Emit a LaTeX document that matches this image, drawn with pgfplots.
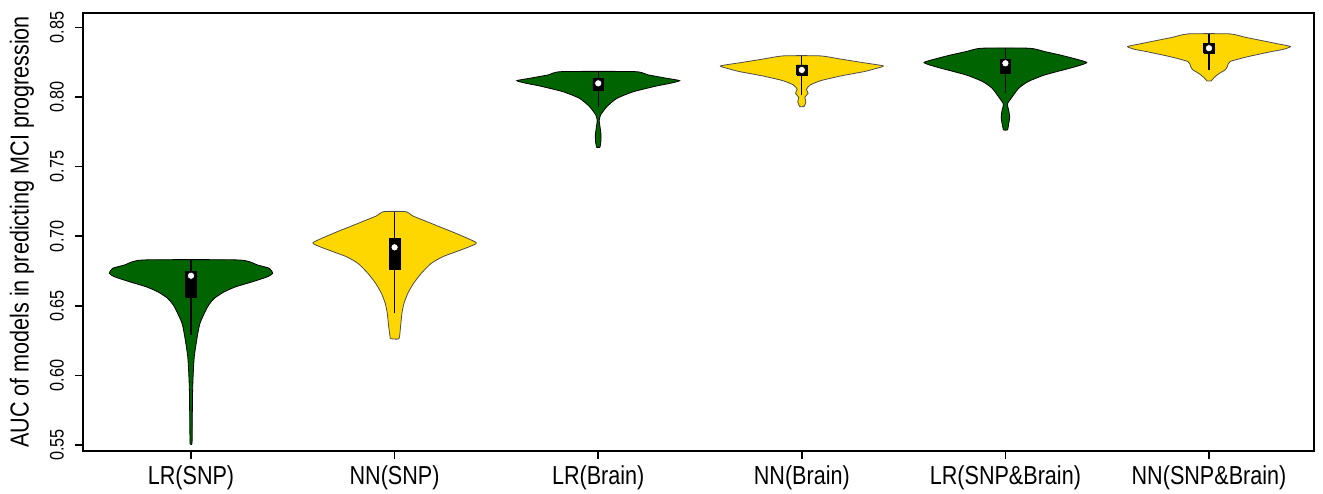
\documentclass[border=0pt]{standalone}
\usepackage{pgfplots}
\usepackage{pgfplotstable}
\pgfplotsset{compat=1.18}
\usepackage{fontspec}
\setmainfont{Liberation Sans}[FakeStretch=0.83]
\definecolor{vgreen}{RGB}{0,100,0}
\definecolor{vgold}{RGB}{255,215,0}

% violin outlines: side s (-1 left, +1 right), y, half-width w
\pgfplotstableread{
s y w
-1 0.5512 0.005
-1 0.5728 0.0065
-1 0.5895 0.008
-1 0.6015 0.011
-1 0.6134 0.016
-1 0.6254 0.028
-1 0.6374 0.044
-1 0.6494 0.082
-1 0.6554 0.115
-1 0.6601 0.164
-1 0.6637 0.221
-1 0.6673 0.303
-1 0.6709 0.377
-1 0.6733 0.401
-1 0.6769 0.385
-1 0.6793 0.327
-1 0.6829 0.236
1 0.6829 0.236
1 0.6793 0.327
1 0.6769 0.385
1 0.6733 0.401
1 0.6709 0.377
1 0.6673 0.303
1 0.6637 0.221
1 0.6601 0.164
1 0.6554 0.115
1 0.6494 0.082
1 0.6374 0.044
1 0.6254 0.028
1 0.6134 0.016
1 0.6015 0.011
1 0.5895 0.008
1 0.5728 0.0065
1 0.5512 0.005
-1 0.5512 0.005
}\vA
\pgfplotstableread{
s y w
-1 0.6264 0.021
-1 0.6350 0.029
-1 0.6446 0.036
-1 0.6518 0.046
-1 0.6590 0.065
-1 0.6661 0.093
-1 0.6733 0.131
-1 0.6805 0.180
-1 0.6853 0.237
-1 0.6889 0.303
-1 0.6925 0.368
-1 0.6954 0.401
-1 0.7021 0.300
-1 0.7068 0.220
-1 0.7116 0.139
-1 0.7145 0.090
-1 0.7176 0.054
1 0.7176 0.054
1 0.7145 0.090
1 0.7116 0.139
1 0.7068 0.220
1 0.7021 0.300
1 0.6954 0.401
1 0.6925 0.368
1 0.6889 0.303
1 0.6853 0.237
1 0.6805 0.180
1 0.6733 0.131
1 0.6661 0.093
1 0.6590 0.065
1 0.6518 0.046
1 0.6446 0.036
1 0.6350 0.029
1 0.6264 0.021
-1 0.6264 0.021
}\vB
\pgfplotstableread{
s y w
-1 0.7638 0.008
-1 0.7679 0.013
-1 0.7727 0.014
-1 0.7775 0.010
-1 0.7830 0.005
-1 0.7871 0.012
-1 0.7931 0.043
-1 0.7990 0.092
-1 0.8038 0.174
-1 0.8079 0.288
-1 0.8098 0.354
-1 0.8117 0.400
-1 0.8134 0.337
-1 0.8158 0.247
-1 0.8182 0.180
1 0.8182 0.180
1 0.8158 0.247
1 0.8134 0.337
1 0.8117 0.400
1 0.8098 0.354
1 0.8079 0.288
1 0.8038 0.174
1 0.7990 0.092
1 0.7931 0.043
1 0.7871 0.012
1 0.7830 0.005
1 0.7775 0.010
1 0.7727 0.014
1 0.7679 0.013
1 0.7638 0.008
-1 0.7638 0.008
}\vC
\pgfplotstableread{
s y w
-1 0.7931 0.011
-1 0.7966 0.020
-1 0.7998 0.015
-1 0.8026 0.031
-1 0.8055 0.023
-1 0.8086 0.041
-1 0.8117 0.093
-1 0.8151 0.192
-1 0.8182 0.306
-1 0.8204 0.363
-1 0.8223 0.400
-1 0.8247 0.298
-1 0.8271 0.195
-1 0.8295 0.090
1 0.8295 0.090
1 0.8271 0.195
1 0.8247 0.298
1 0.8223 0.400
1 0.8204 0.363
1 0.8182 0.306
1 0.8151 0.192
1 0.8117 0.093
1 0.8086 0.041
1 0.8055 0.023
1 0.8026 0.031
1 0.7998 0.015
1 0.7966 0.020
1 0.7931 0.011
-1 0.7931 0.011
}\vD
\pgfplotstableread{
s y w
-1 0.7763 0.010
-1 0.7806 0.016
-1 0.7854 0.021
-1 0.7907 0.016
-1 0.7950 0.010
-1 0.8002 0.034
-1 0.8062 0.065
-1 0.8110 0.111
-1 0.8158 0.193
-1 0.8206 0.316
-1 0.8230 0.373
-1 0.8249 0.400
-1 0.8278 0.332
-1 0.8302 0.267
-1 0.8326 0.193
-1 0.8350 0.118
1 0.8350 0.118
1 0.8326 0.193
1 0.8302 0.267
1 0.8278 0.332
1 0.8249 0.400
1 0.8230 0.373
1 0.8206 0.316
1 0.8158 0.193
1 0.8110 0.111
1 0.8062 0.065
1 0.8002 0.034
1 0.7950 0.010
1 0.7907 0.016
1 0.7854 0.021
1 0.7806 0.016
1 0.7763 0.010
-1 0.7763 0.010
}\vE
\pgfplotstableread{
s y w
-1 0.8115 0.010
-1 0.8141 0.026
-1 0.8170 0.051
-1 0.8194 0.079
-1 0.8218 0.090
-1 0.8254 0.103
-1 0.8290 0.193
-1 0.8326 0.308
-1 0.8342 0.365
-1 0.8362 0.400
-1 0.8381 0.340
-1 0.8405 0.259
-1 0.8429 0.177
-1 0.8453 0.102
1 0.8453 0.102
1 0.8429 0.177
1 0.8405 0.259
1 0.8381 0.340
1 0.8362 0.400
1 0.8342 0.365
1 0.8326 0.308
1 0.8290 0.193
1 0.8254 0.103
1 0.8218 0.090
1 0.8194 0.079
1 0.8170 0.051
1 0.8141 0.026
1 0.8115 0.010
-1 0.8115 0.010
}\vF

\begin{document}
\begin{tikzpicture}
\useasboundingbox (-41.5pt,-21pt) rectangle (620pt,225.5pt);
\begin{axis}[
  at={(0,0)}, anchor=south west,
  scale only axis, width=615.5pt, height=219pt,
  xmin=0.4695, xmax=6.5157, ymin=0.5457, ymax=0.8603,
  xtick={1,2,3,4,5,6},
  xticklabels={LR(SNP),NN(SNP),LR(Brain),NN(Brain),LR(SNP\&Brain),NN(SNP\&Brain)},
  ytick={0.55,0.6,0.65,0.7,0.75,0.8,0.85},
  /pgf/number format/assume math mode=true,
  yticklabel style={/pgf/number format/fixed, /pgf/number format/fixed zerofill,
    /pgf/number format/precision=2, rotate=90, anchor=south,
    font=\fontsize{9.8}{11}\selectfont},
  yticklabel shift=2pt,
  xticklabel style={font=\fontsize{13}{15}\selectfont},
  tick align=outside, xtick pos=bottom, ytick pos=left,
  major tick length=4pt,
  axis line style={line width=1pt},
  every tick/.style={black, line width=0.8pt},
  ylabel={AUC of models in predicting MCI progression},
  ylabel style={font=\fontsize{13}{15}\selectfont, at={(axis description cs:-0.0496,0.5)}, anchor=center},
]
% violins
\addplot[fill=vgreen, draw=black, line width=0.4pt, smooth, tension=0.35]
  table[x expr=1+\thisrow{s}*\thisrow{w}, y=y]{\vA};
\addplot[fill=vgold, draw=black!70, line width=0.4pt, smooth, tension=0.35]
  table[x expr=2+\thisrow{s}*\thisrow{w}, y=y]{\vB};
\addplot[fill=vgreen, draw=black, line width=0.4pt, smooth, tension=0.35]
  table[x expr=3+\thisrow{s}*\thisrow{w}, y=y]{\vC};
\addplot[fill=vgold, draw=black!70, line width=0.4pt, smooth, tension=0.35]
  table[x expr=4+\thisrow{s}*\thisrow{w}, y=y]{\vD};
\addplot[fill=vgreen, draw=black, line width=0.4pt, smooth, tension=0.35]
  table[x expr=5+\thisrow{s}*\thisrow{w}, y=y]{\vE};
\addplot[fill=vgold, draw=black!70, line width=0.4pt, smooth, tension=0.35]
  table[x expr=6+\thisrow{s}*\thisrow{w}, y=y]{\vF};
% whiskers
\addplot[black, line width=0.55pt] coordinates {(1,0.6290) (1,0.6829)};
\addplot[black, line width=0.55pt] coordinates {(2,0.6446) (2,0.7176)};
\addplot[black, line width=0.55pt] coordinates {(3,0.7931) (3,0.8182)};
\addplot[black, line width=0.55pt] coordinates {(4,0.8014) (4,0.8295)};
\addplot[black, line width=0.55pt] coordinates {(5,0.8026) (5,0.8350)};
\addplot[black, line width=0.55pt] coordinates {(6,0.8194) (6,0.8453)};
% boxes
\addplot[fill=black, draw=black] coordinates {(0.974,0.6561) (1.026,0.6561) (1.026,0.6745) (0.974,0.6745) (0.974,0.6561)};
\addplot[fill=black, draw=black] coordinates {(1.974,0.6762) (2.026,0.6762) (2.026,0.6985) (1.974,0.6985) (1.974,0.6762)};
\addplot[fill=black, draw=black] coordinates {(2.974,0.8050) (3.026,0.8050) (3.026,0.8134) (2.974,0.8134) (2.974,0.8050)};
\addplot[fill=black, draw=black] coordinates {(3.974,0.8158) (4.026,0.8158) (4.026,0.8230) (3.974,0.8230) (3.974,0.8158)};
\addplot[fill=black, draw=black] coordinates {(4.974,0.8170) (5.026,0.8170) (5.026,0.8271) (4.974,0.8271) (4.974,0.8170)};
\addplot[fill=black, draw=black] coordinates {(5.974,0.8314) (6.026,0.8314) (6.026,0.8386) (5.974,0.8386) (5.974,0.8314)};
% medians
\addplot[only marks, mark=*, mark size=1.8pt, mark options={fill=white, draw=black, line width=0.3pt}]
  coordinates {(1,0.6716) (2,0.6920) (3,0.8098) (4,0.8194) (5,0.8242) (6,0.8350)};
\end{axis}
\end{tikzpicture}
\end{document}
